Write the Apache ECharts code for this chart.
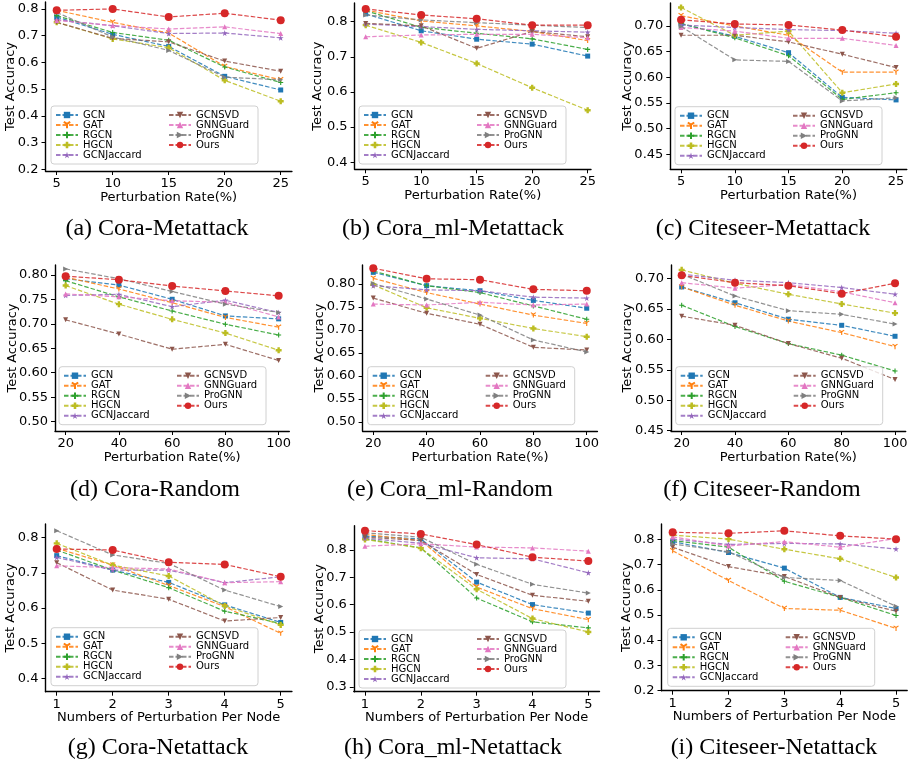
<!DOCTYPE html>
<html>
<head>
<meta charset="utf-8">
<script src="https://cdn.jsdelivr.net/npm/echarts@6/dist/echarts.min.js"></script>
<style>
  html, body { margin: 0; padding: 0; background: #fff; }
  #main { width: 912px; height: 766px; }
</style>
</head>
<body>
<div id="main"></div>
<script>
// methods, in legend order
const methods = ['GCN', 'GAT', 'RGCN', 'HGCN', 'GCNJaccard', 'GCNSVD', 'GNNGuard', 'ProGNN', 'Ours'];

// x values / tick labels
const rateMeta = [5, 10, 15, 20, 25];
const rateRandom = [20, 40, 60, 80, 100];
const pertNode = [1, 2, 3, 4, 5];

// y tick labels
const ticksA = [0.2, 0.3, 0.4, 0.5, 0.6, 0.7, 0.8];
const ticksB = [0.4, 0.5, 0.6, 0.7, 0.8];
const ticksC = [0.45, 0.50, 0.55, 0.60, 0.65, 0.70];
const ticksD = [0.50, 0.55, 0.60, 0.65, 0.70, 0.75, 0.80];
const ticksG = [0.4, 0.5, 0.6, 0.7, 0.8];
const ticksH = [0.3, 0.4, 0.5, 0.6, 0.7, 0.8];

// accuracy values, one row per method (same order as methods)
const coraMeta = [
  [0.770, 0.705, 0.660, 0.548, 0.497],
  [0.795, 0.750, 0.710, 0.585, 0.535],
  [0.775, 0.712, 0.683, 0.583, 0.525],
  [0.750, 0.688, 0.655, 0.533, 0.455],
  [0.760, 0.737, 0.708, 0.710, 0.692],
  [0.750, 0.690, 0.677, 0.605, 0.567],
  [0.757, 0.738, 0.725, 0.733, 0.708],
  [0.787, 0.695, 0.645, 0.545, 0.535],
  [0.795, 0.800, 0.770, 0.784, 0.758]
];
const coraMlMeta = [
  [0.822, 0.774, 0.750, 0.736, 0.702],
  [0.833, 0.802, 0.788, 0.772, 0.746],
  [0.831, 0.784, 0.767, 0.751, 0.721],
  [0.790, 0.741, 0.681, 0.612, 0.548],
  [0.793, 0.786, 0.778, 0.774, 0.770],
  [0.795, 0.788, 0.724, 0.772, 0.757],
  [0.757, 0.762, 0.764, 0.764, 0.754],
  [0.819, 0.805, 0.797, 0.790, 0.783],
  [0.836, 0.819, 0.808, 0.790, 0.790]
];
const citeseerMeta = [
  [0.704, 0.680, 0.648, 0.561, 0.556],
  [0.720, 0.700, 0.682, 0.610, 0.610],
  [0.705, 0.677, 0.642, 0.557, 0.570],
  [0.736, 0.682, 0.690, 0.570, 0.587],
  [0.702, 0.697, 0.693, 0.691, 0.686],
  [0.682, 0.682, 0.669, 0.645, 0.619],
  [0.697, 0.690, 0.676, 0.676, 0.662],
  [0.699, 0.634, 0.631, 0.554, 0.560],
  [0.712, 0.704, 0.702, 0.692, 0.679]
];
const coraRandom = [
  [0.792, 0.779, 0.750, 0.716, 0.710],
  [0.795, 0.771, 0.743, 0.713, 0.693],
  [0.788, 0.755, 0.726, 0.699, 0.677],
  [0.778, 0.740, 0.709, 0.681, 0.646],
  [0.758, 0.760, 0.735, 0.748, 0.723],
  [0.708, 0.679, 0.648, 0.658, 0.625],
  [0.761, 0.755, 0.747, 0.744, 0.714],
  [0.812, 0.792, 0.766, 0.740, 0.723],
  [0.797, 0.790, 0.777, 0.767, 0.757]
];
const coraMlRandom = [
  [0.825, 0.796, 0.785, 0.764, 0.747],
  [0.812, 0.781, 0.756, 0.732, 0.714],
  [0.828, 0.796, 0.781, 0.752, 0.723],
  [0.798, 0.748, 0.725, 0.703, 0.685],
  [0.796, 0.787, 0.785, 0.771, 0.769],
  [0.769, 0.736, 0.712, 0.662, 0.656],
  [0.756, 0.754, 0.760, 0.754, 0.756],
  [0.801, 0.767, 0.732, 0.678, 0.652],
  [0.834, 0.811, 0.809, 0.788, 0.785]
];
const citeseerRandom = [
  [0.686, 0.660, 0.633, 0.623, 0.605],
  [0.686, 0.656, 0.630, 0.611, 0.588],
  [0.656, 0.621, 0.593, 0.574, 0.548],
  [0.714, 0.692, 0.674, 0.658, 0.643],
  [0.707, 0.697, 0.693, 0.685, 0.674],
  [0.638, 0.623, 0.593, 0.569, 0.534],
  [0.693, 0.684, 0.690, 0.678, 0.660],
  [0.707, 0.671, 0.647, 0.641, 0.625],
  [0.705, 0.693, 0.688, 0.675, 0.692]
];
const coraNet = [
  [0.749, 0.708, 0.673, 0.609, 0.559],
  [0.770, 0.722, 0.664, 0.604, 0.528],
  [0.765, 0.708, 0.658, 0.591, 0.556],
  [0.784, 0.722, 0.691, 0.606, 0.552],
  [0.744, 0.708, 0.708, 0.672, 0.689],
  [0.729, 0.651, 0.625, 0.563, 0.573],
  [0.720, 0.715, 0.711, 0.672, 0.675],
  [0.820, 0.751, 0.727, 0.651, 0.604],
  [0.768, 0.765, 0.730, 0.724, 0.689]
];
const coraMlNet = [
  [0.850, 0.840, 0.682, 0.600, 0.569],
  [0.856, 0.834, 0.664, 0.585, 0.545],
  [0.840, 0.807, 0.624, 0.537, 0.515],
  [0.838, 0.806, 0.656, 0.549, 0.500],
  [0.842, 0.824, 0.771, 0.767, 0.716],
  [0.846, 0.834, 0.710, 0.634, 0.612],
  [0.813, 0.822, 0.810, 0.807, 0.795],
  [0.862, 0.846, 0.747, 0.674, 0.642],
  [0.870, 0.858, 0.819, 0.773, 0.759]
];
const citeseerNet = [
  [0.791, 0.748, 0.686, 0.570, 0.526],
  [0.755, 0.637, 0.526, 0.519, 0.447],
  [0.795, 0.769, 0.634, 0.570, 0.498],
  [0.817, 0.801, 0.761, 0.723, 0.649],
  [0.801, 0.780, 0.784, 0.782, 0.762],
  [0.769, 0.692, 0.653, 0.570, 0.515],
  [0.810, 0.774, 0.791, 0.769, 0.804],
  [0.782, 0.751, 0.649, 0.637, 0.535],
  [0.828, 0.824, 0.834, 0.814, 0.801]
];

// styles
const colors = ['#1f77b4', '#ff7f0e', '#2ca02c', '#bcbd22', '#9467bd', '#8c564b', '#e377c2', '#7f7f7f', '#d62728'];
const marks = [
  { symbol: 'rect', size: 5 },
  { symbol: 'path://M5,5L5,10M5,5L0.67,2.5M5,5L9.33,2.5', size: 5, stroke: true },
  { symbol: 'path://M5,0L5,10M0,5L10,5', size: 5, stroke: true },
  { symbol: 'path://M3,0H7V3H10V7H7V10H3V7H0V3H3Z', size: 6 },
  { symbol: 'path://M50,0L61,35L98,35L68,57L79,91L50,70L21,91L32,57L2,35L39,35Z', size: 6 },
  { symbol: 'triangle', size: 5, rotate: 180 },
  { symbol: 'triangle', size: 5 },
  { symbol: 'triangle', size: 5, rotate: -90 },
  { symbol: 'circle', size: 8 }
];

const rateName = 'Perturbation Rate(%)';
const nodeName = 'Numbers of Perturbation Per Node';

// layout of each panel: grid [left, top, width, height], y range, legend [left, top]
const panels = [
  { title: '(a) Cora-Metattack', tc: [157, 229], x: rateMeta, xr: [4, 26], y: coraMeta, yr: [0.194, 0.826], ticks: ticksA, dec: 1, grid: [45.5, 2, 246.4, 169], gap: 28, xName: rateName, lg: [51, 106] },
  { title: '(b) Cora_ml-Metattack', tc: [453, 229], x: rateMeta, xr: [4, 25.3], y: coraMlMeta, yr: [0.380, 0.853], ticks: ticksB, dec: 1, grid: [354.6, 3, 236.4, 166.3], gap: 30, xName: rateName, lg: [359, 106] },
  { title: '(c) Citeseer-Metattack', tc: [763, 229], x: rateMeta, xr: [4, 26], y: citeseerMeta, yr: [0.4208, 0.7448], ticks: ticksC, dec: 2, grid: [670.3, 3, 236.5, 166.3], gap: 36, xName: rateName, lg: [675, 106.7] },
  { title: '(d) Cora-Random', tc: [155, 490], x: rateRandom, xr: [16, 104], y: coraRandom, yr: [0.481, 0.82], ticks: ticksD, dec: 2, grid: [55, 265, 234.3, 166], gap: 36, xName: rateName, lg: [59, 366.7] },
  { title: '(e) Cora_ml-Random', tc: [450, 490], x: rateRandom, xr: [16, 104], y: coraMlRandom, yr: [0.48, 0.841], ticks: ticksD, dec: 2, grid: [362.6, 265, 234.8, 166], gap: 36, xName: rateName, lg: [367.7, 366.7] },
  { title: '(f) Citeseer-Random', tc: [762, 490], x: rateRandom, xr: [16, 104], y: citeseerRandom, yr: [0.4495, 0.722], ticks: ticksC, dec: 2, grid: [671, 265, 234.7, 166], gap: 37, xName: rateName, lg: [675.7, 366.7] },
  { title: '(g) Cora-Netattack', tc: [158, 748], x: pertNode, xr: [0.8, 5.2], y: coraNet, yr: [0.362, 0.839], ticks: ticksG, dec: 1, grid: [45.5, 524, 246.4, 167.7], gap: 28, xName: nodeName, lg: [51, 627.7] },
  { title: '(h) Cora_ml-Netattack', tc: [453, 748], x: pertNode, xr: [0.8, 5.2], y: coraMlNet, yr: [0.282, 0.888], ticks: ticksH, dec: 1, grid: [353.8, 525.7, 245.7, 166], gap: 27.5, xName: nodeName, lg: [359, 630] },
  { title: '(i) Citeseer-Netattack', tc: [774, 748], x: pertNode, xr: [0.8, 5.2], y: citeseerNet, yr: [0.2, 0.861], ticks: ticksA, dec: 1, grid: [661.5, 524, 245.7, 166.7], gap: 28.5, xName: nodeName, lg: [667.7, 628.3] }
];

const font = 'DejaVu Sans';
const grids = [], xAxes = [], yAxes = [], series = [], legends = [], texts = [];

panels.forEach((p, i) => {
  grids.push({ left: p.grid[0], top: p.grid[1], width: p.grid[2], height: p.grid[3], outerBoundsMode: 'none' });
  xAxes.push({
    type: 'value', gridIndex: i, min: p.xr[0], max: p.xr[1],
    name: p.xName, nameLocation: 'middle', nameGap: 14,
    nameTextStyle: { fontFamily: font, fontSize: 13, color: '#000' },
    axisLine: { onZero: false, lineStyle: { color: '#000', width: 1.4 } },
    axisTick: { show: true, length: 4, customValues: p.x, lineStyle: { color: '#000', width: 1 } },
    axisLabel: { customValues: p.x, margin: 6, fontFamily: font, fontSize: 13, color: '#000' },
    splitLine: { show: false }
  });
  yAxes.push({
    type: 'value', gridIndex: i, min: p.yr[0], max: p.yr[1],
    name: 'Test Accuracy', nameLocation: 'middle', nameGap: p.gap, nameMoveOverlap: false,
    nameTextStyle: { fontFamily: font, fontSize: 13, color: '#000' },
    axisLine: { show: true, onZero: false, lineStyle: { color: '#000', width: 1.4 } },
    axisTick: { show: true, length: 4, customValues: p.ticks, lineStyle: { color: '#000', width: 1 } },
    axisLabel: { customValues: p.ticks, margin: 7, fontFamily: font, fontSize: 13, color: '#000',
      formatter: v => Number(v).toFixed(p.dec) },
    splitLine: { show: false }
  });
  methods.forEach((m, k) => {
    series.push({
      name: m, type: 'line', xAxisIndex: i, yAxisIndex: i,
      data: p.x.map((xv, j) => [xv, p.y[k][j]]),
      symbol: marks[k].symbol, symbolSize: marks[k].size, symbolRotate: marks[k].rotate || 0,
      showAllSymbol: true,
      lineStyle: { color: colors[k], width: 1.2, type: [4.5, 2], opacity: 0.85 },
      itemStyle: { color: colors[k], borderColor: colors[k], borderWidth: marks[k].stroke ? 1.1 : 0 },
      emphasis: { disabled: true },
      silent: true, animation: false
    });
  });
  legends.push({
    left: p.lg[0], top: p.lg[1], orient: 'vertical', height: 50,
    itemGap: 0, itemWidth: 22, itemHeight: 8, padding: 4,
    borderColor: '#d0d0d0', borderWidth: 1, borderRadius: 3,
    backgroundColor: 'rgba(255,255,255,0.8)', selectedMode: false,
    textStyle: { fontFamily: font, fontSize: 10, lineHeight: 10, color: '#000' },
    data: methods.map((m, k) => ({ name: m, textStyle: { width: k < 5 ? 85 : 58 } }))
  });
  texts.push({
    type: 'text', x: p.tc[0], y: p.tc[1], silent: true,
    style: { text: p.title, font: '24px "Liberation Serif"', fill: '#000',
      textAlign: 'center', textVerticalAlign: 'middle' }
  });
});

const chart = echarts.init(document.getElementById('main'), null, { renderer: 'canvas' });
chart.setOption({
  backgroundColor: '#fff',
  animation: false,
  textStyle: { fontFamily: font },
  grid: grids,
  xAxis: xAxes,
  yAxis: yAxes,
  legend: legends,
  series: series,
  graphic: texts
});
</script>
</body>
</html>
